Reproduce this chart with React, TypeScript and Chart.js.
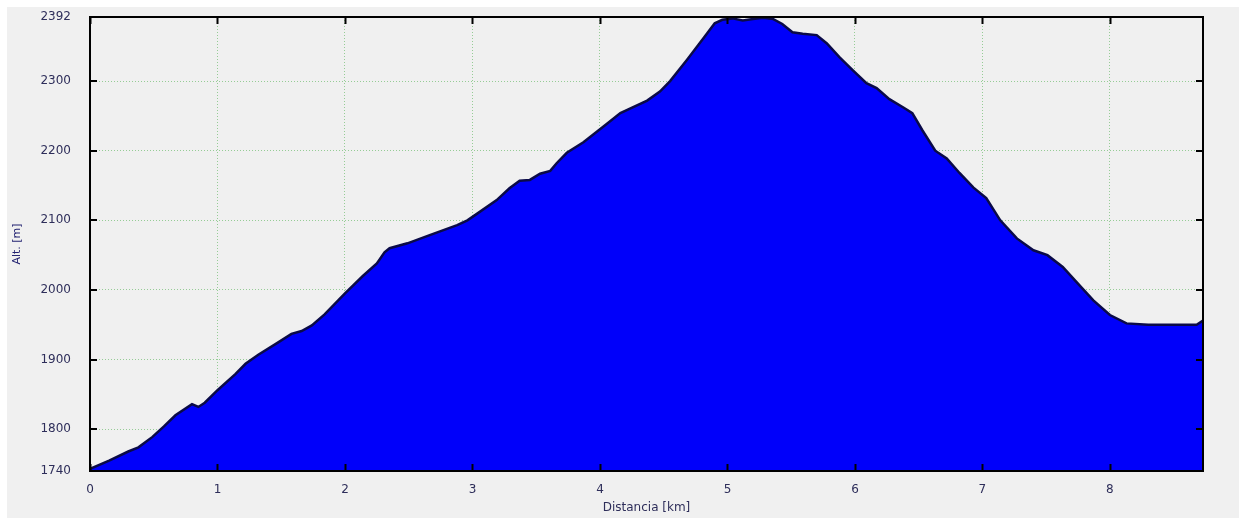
import React, { useEffect, useRef } from "react";
import { Chart, registerables } from "chart.js";

Chart.register(...registerables);

const distanceKm = [
  0, 0.15, 0.3, 0.38, 0.49, 0.58, 0.67, 0.8, 0.85, 0.9, 1.0, 1.14, 1.22, 1.32, 1.47, 1.58, 1.66, 1.74, 1.84, 1.92,
  2.0, 2.14, 2.25, 2.31, 2.35, 2.49, 2.67, 2.88, 2.96, 3.04, 3.19, 3.29, 3.37, 3.45, 3.53, 3.61, 3.66, 3.74, 3.87,
  4.05, 4.16, 4.37, 4.47, 4.55, 4.68, 4.81, 4.9, 4.96, 5.04, 5.12, 5.2, 5.28, 5.36, 5.43, 5.51, 5.59, 5.7, 5.78,
  5.88, 5.98, 6.09, 6.17, 6.27, 6.38, 6.45, 6.53, 6.63, 6.72, 6.82, 6.93, 7.03, 7.14, 7.27, 7.4, 7.51, 7.63, 7.76,
  7.87, 8.0, 8.13, 8.3, 8.5, 8.68, 8.73,
];

const altitudeM = [
  1743, 1755, 1768, 1774, 1789, 1804, 1820, 1836, 1832, 1838, 1856, 1879, 1894, 1907, 1924, 1937, 1941, 1949, 1965, 1980,
  1995, 2020, 2038, 2054, 2060, 2067, 2079, 2093, 2100, 2110, 2129, 2146, 2157, 2158, 2167, 2171, 2182, 2197, 2212,
  2238, 2254, 2272, 2285, 2300, 2330, 2361, 2383, 2388, 2390, 2387, 2389, 2391, 2389, 2382, 2370, 2368, 2366, 2354,
  2334, 2316, 2297, 2290, 2274, 2262, 2254, 2229, 2200, 2189, 2168, 2147, 2132, 2100, 2074, 2057, 2050, 2033, 2007,
  1985, 1964, 1952, 1950, 1950, 1950, 1956,
];

const xTickValues = [0, 1, 2, 3, 4, 5, 6, 7, 8];
const yTickValues = [1740, 1800, 1900, 2000, 2100, 2200, 2300, 2392];
const xMin = 0;
const xMax = 8.73;
const yMin = 1740;
const yMax = 2392;

const frameAndTicks = {
  id: "frameAndTicks",
  afterDraw(chart: any) {
    const { ctx, chartArea } = chart;
    const { left, right, top, bottom } = chartArea;
    const xs = chart.scales.x;
    const ys = chart.scales.y;
    const tl = 7;
    ctx.save();
    ctx.strokeStyle = "#000";
    ctx.lineWidth = 2;
    ctx.beginPath();
    xTickValues.forEach((v) => {
      const px = Math.round(xs.getPixelForValue(v)) + 0.5;
      ctx.moveTo(px, bottom);
      ctx.lineTo(px, bottom - tl);
      ctx.moveTo(px, top);
      ctx.lineTo(px, top + tl);
    });
    yTickValues.forEach((v) => {
      const py = Math.round(ys.getPixelForValue(v));
      ctx.moveTo(left, py);
      ctx.lineTo(left + tl, py);
      ctx.moveTo(right, py);
      ctx.lineTo(right - tl, py);
    });
    ctx.stroke();
    ctx.strokeRect(left, top, right - left, bottom - top);
    ctx.restore();
  },
};

export default function App() {
  const canvasRef = useRef<HTMLCanvasElement>(null);

  useEffect(() => {
    const canvas = canvasRef.current;
    if (!canvas) return;
    const points = distanceKm.map((d, i) => ({ x: d, y: altitudeM[i] }));
    const font = { family: "'DejaVu Sans', sans-serif", size: 12 };
    const chart = new Chart(canvas, {
      type: "line",
      data: {
        datasets: [
          {
            data: points,
            fill: "start",
            backgroundColor: "#0000fa",
            borderColor: "#0a0a48",
            borderWidth: 2.5,
            pointRadius: 0,
            tension: 0,
          },
        ],
      },
      options: {
        animation: false,
        responsive: false,
        maintainAspectRatio: false,
        layout: { padding: { left: 0, top: 10, right: 36, bottom: 0 } },
        plugins: { legend: { display: false }, tooltip: { enabled: false } },
        scales: {
          x: {
            type: "linear",
            min: xMin,
            max: xMax,
            z: 1,
            afterBuildTicks: (s: any) => {
              s.ticks = xTickValues.map((v) => ({ value: v }));
            },
            afterFit: (s: any) => {
              s.height = 47;
              s.paddingLeft = 0;
              s.paddingRight = 0;
            },
            grid: {
              color: "rgba(40,160,40,0.45)",
              lineWidth: 1,
              drawTicks: false,
            },
            border: { display: false, dash: [1, 2] },
            ticks: {
              padding: 12,
              color: "#2e2e5a",
              font,
              maxRotation: 0,
              autoSkip: false,
              callback: (v: any) => String(v),
            },
            title: {
              display: true,
              text: "Distancia [km]",
              color: "#2e2e5a",
              font,
              padding: { top: 0, bottom: 3 },
            },
          },
          y: {
            type: "linear",
            min: yMin,
            max: yMax,
            z: 1,
            afterBuildTicks: (s: any) => {
              s.ticks = yTickValues.map((v) => ({ value: v }));
            },
            afterFit: (s: any) => {
              s.width = 83;
              s.paddingTop = 0;
              s.paddingBottom = 0;
            },
            grid: {
              color: "rgba(40,160,40,0.45)",
              lineWidth: 1,
              drawTicks: false,
            },
            border: { display: false, dash: [1, 2] },
            ticks: {
              padding: 19,
              color: "#2e2e5a",
              font,
              autoSkip: false,
              callback: (v: any) => String(v),
            },
            title: {
              display: true,
              text: "Alt. [m]",
              color: "#202070",
              font: { family: "'DejaVu Sans', sans-serif", size: 11 },
              padding: { top: 4, bottom: 0 },
            },
          },
        },
      },
      plugins: [frameAndTicks],
    });
    return () => chart.destroy();
  }, []);

  return (
    <div
      style={{
        position: "absolute",
        left: 7,
        top: 7,
        width: 1232,
        height: 511,
        background: "#f0f0f0",
      }}
    >
      <canvas ref={canvasRef} width={1232} height={511} style={{ display: "block" }} />
    </div>
  );
}
